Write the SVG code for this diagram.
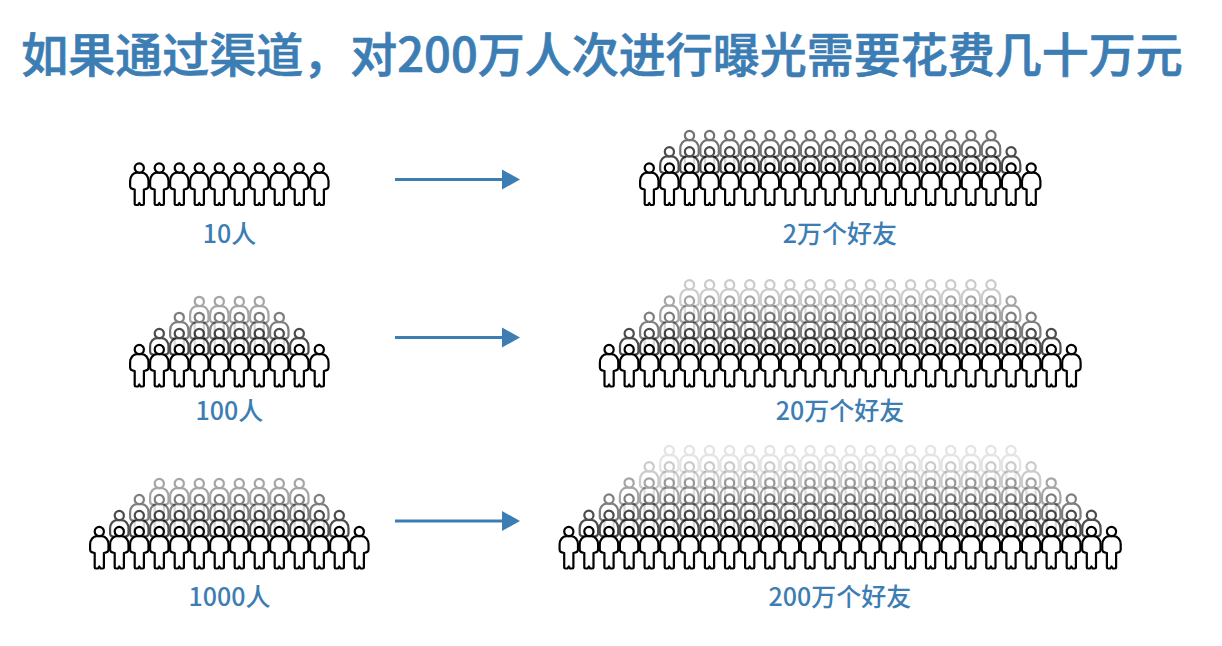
<svg xmlns="http://www.w3.org/2000/svg" width="1222" height="646" viewBox="0 0 1222 646">
<style>
.t{font-family:"Noto Sans CJK SC","Liberation Sans",sans-serif;fill:#3c7db4;text-anchor:middle}
.h{font-size:47px;font-weight:500;stroke:#3c7db4;stroke-width:.7}
.l{font-size:25px;font-weight:500}
.p{fill:#fff;stroke:#000;stroke-width:2.2;stroke-linejoin:round}
.a{stroke:#3c7db4;stroke-width:3;fill:none}
.ah{fill:#3c7db4}
</style>
<defs>
<g id="p" class="p" transform="translate(-.2 0)"><path d="M-9.200-19.500V-24.500C-9.200-29.500-6-32.800-2.500-32.800H2.500C6-32.800 9.200-29.500 9.200-24.500V-19.500Q9.200-16.500 4.600-16V-1.500Q4.600-.5 3.400-.5H1.300L0-2.500L-1.300-.5H-3.400Q-4.600-.5-4.600-1.500V-16Q-9.200-16.500-9.200-19.500Z"/><circle cx="0" cy="-37.500" r="4.600"/></g>
<g id="a2"><use href="#p"/><use href="#p" x="20.1"/></g>
<g id="a4"><use href="#a2"/><use href="#a2" x="40.2"/></g>
<g id="a8"><use href="#a4"/><use href="#a4" x="80.4"/></g>
<g id="a16"><use href="#a8"/><use href="#a8" x="160.8"/></g>
<g id="a18"><use href="#a16"/><use href="#a2" x="321.6"/></g>
<g id="a20"><use href="#a16"/><use href="#a4" x="321.6"/></g>
<g id="a22"><use href="#a20"/><use href="#a2" x="402"/></g>
<g id="a24"><use href="#a16"/><use href="#a8" x="321.6"/></g>
<g id="a26"><use href="#a24"/><use href="#a2" x="482.4"/></g>
<g id="a28"><use href="#a24"/><use href="#a4" x="482.4"/></g>
<g id="b2"><use href="#p"/><use href="#p" x="20"/></g>
<g id="b4"><use href="#b2"/><use href="#b2" x="40"/></g>
<g id="b6"><use href="#b4"/><use href="#b2" x="80"/></g>
<g id="b8"><use href="#b4"/><use href="#b4" x="80"/></g>
<g id="b10"><use href="#b8"/><use href="#b2" x="160"/></g>
<g id="b12"><use href="#b8"/><use href="#b4" x="160"/></g>
<g id="b14"><use href="#b12"/><use href="#b2" x="240"/></g>
</defs>
<text class="t h" x="602" y="72">如果通过渠道，对200万人次进行曝光需要花费几十万元</text>
<g id="crowd-10">
<use href="#b10" transform="translate(139.500 205.500)"/>
<text class="t l" x="229.500" y="243">10人</text>
</g>
<g id="crowd-20k">
<use href="#a16" opacity=".55" transform="translate(689.700 173)"/>
<use href="#a18" opacity=".7" transform="translate(669.600 189.200)"/>
<use href="#a20" transform="translate(649.500 205.500)"/>
<text class="t l" x="840" y="243">2万个好友</text>
</g>
<g id="crowd-100">
<use href="#b4" opacity=".35" transform="translate(199.500 338.900)"/>
<use href="#b6" opacity=".5" transform="translate(179.500 354.900)"/>
<use href="#b8" opacity=".7" transform="translate(159.500 371)"/>
<use href="#b10" transform="translate(139.500 387)"/>
<text class="t l" x="229.500" y="420">100人</text>
</g>
<g id="crowd-200k">
<use href="#a16" opacity=".2" transform="translate(689.700 322.300)"/>
<use href="#a18" opacity=".35" transform="translate(669.600 338.500)"/>
<use href="#a20" opacity=".5" transform="translate(649.500 354.800)"/>
<use href="#a22" opacity=".7" transform="translate(629.400 371)"/>
<use href="#a24" transform="translate(609.300 387)"/>
<text class="t l" x="840" y="420">20万个好友</text>
</g>
<g id="crowd-1000">
<use href="#b8" opacity=".35" transform="translate(159.500 521)"/>
<use href="#b10" opacity=".5" transform="translate(139.500 537)"/>
<use href="#b12" opacity=".7" transform="translate(119.500 553)"/>
<use href="#b14" transform="translate(99.500 569)"/>
<text class="t l" x="229.500" y="606">1000人</text>
</g>
<g id="crowd-2m">
<use href="#a18" opacity=".1" transform="translate(669.500 488)"/>
<use href="#a20" opacity=".2" transform="translate(649.400 504.200)"/>
<use href="#a22" opacity=".35" transform="translate(629.300 520.400)"/>
<use href="#a24" opacity=".5" transform="translate(609.200 536.500)"/>
<use href="#a26" opacity=".7" transform="translate(589.100 552.700)"/>
<use href="#a28" transform="translate(569 569)"/>
<text class="t l" x="840" y="606">200万个好友</text>
</g>
<g id="connectors">
<path class="a" d="M395 179.500H505"/><path class="ah" d="M502 169.500L520 179.500L502 189.500Z"/>
<path class="a" d="M395 337.500H505"/><path class="ah" d="M502 327.500L520 337.500L502 347.500Z"/>
<path class="a" d="M395 521H505"/><path class="ah" d="M502 511L520 521L502 531Z"/>
</g>
</svg>
